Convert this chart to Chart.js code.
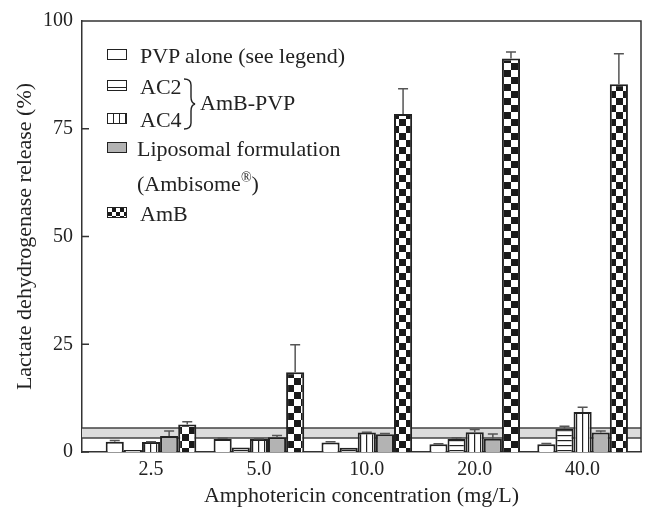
<!DOCTYPE html>
<html>
<head>
<meta charset="utf-8">
<script src="https://cdn.jsdelivr.net/npm/chart.js@4"></script>
<style>
  body { margin: 0; background: #fff; }
  #wrap { position: relative; width: 646px; height: 511px; }
  #legend { position: absolute; left: 0; top: 0; font-family: "Liberation Serif", "Times New Roman", serif; font-size: 22px; color: #222; }
  .sw { position: absolute; left: 107px; width: 18px; height: 9px; border: 1.5px solid #222; background: #fff; }
  .lbl { position: absolute; white-space: nowrap; line-height: 1; transform: translateY(-50%); }
  .lbl sup { font-size: 14px; }
</style>
</head>
<body>
<div id="wrap">
  <canvas id="ldhChart" width="646" height="511"></canvas>
  <div id="legend">
    <div class="sw" style="top:49px"></div>
    <div class="lbl" style="left:140px;top:56px">PVP alone (see legend)</div>
    <div class="sw" style="top:80px;background:repeating-linear-gradient(to bottom,#fff 0 2.5px,#222 2.5px 3.5px)"></div>
    <div class="lbl" style="left:140px;top:87px">AC2</div>
    <div class="sw" style="top:113px;background:repeating-linear-gradient(to right,#fff 0 5px,#222 5px 6px)"></div>
    <div class="lbl" style="left:140px;top:120px">AC4</div>
    <svg style="position:absolute;left:182px;top:77px" width="16" height="54">
      <path d="M2 2 Q9 2 9 8 L9 20 Q9 26 13 27 Q9 28 9 34 L9 46 Q9 52 2 52" fill="none" stroke="#222" stroke-width="1.4"/>
    </svg>
    <div class="lbl" style="left:200px;top:103px">AmB-PVP</div>
    <div class="sw" style="top:142px;background:#b3b3b3"></div>
    <div class="lbl" style="left:137px;top:149px">Liposomal formulation</div>
    <div class="lbl" style="left:137px;top:183px">(Ambisome<sup>®</sup>)</div>
    <div class="sw" style="top:207px;background:conic-gradient(#1a1a1a 25%,#fff 0 50%,#1a1a1a 0 75%,#fff 0) 0 0/8px 8px"></div>
    <div class="lbl" style="left:140px;top:214px">AmB</div>
  </div>
</div>
<script>
// Data
const categories = ['2.5', '5.0', '10.0', '20.0', '40.0'];
const pvpAlone = [2.4, 3.0, 2.2, 1.8, 1.8];
const pvpAloneErr = [0.25, 0.2, 0.2, 0.1, 0.2];
const ac2 = [0.45, 1.05, 1.0, 3.0, 5.4];
const ac2Err = [0, 0, 0, 0.3, 0.6];
const ac4 = [2.3, 3.0, 4.5, 4.6, 9.3];
const ac4Err = [0.1, 0.1, 0.1, 0.6, 1.1];
const liposomal = [3.7, 3.4, 4.1, 3.1, 4.5];
const liposomalErr = [1.2, 0.4, 0.2, 1.1, 0.4];
const amb = [6.4, 18.5, 78.4, 91.3, 85.3];
const ambErr = [0.6, 6.4, 5.9, 1.5, 7.1];
const bandRange = [3.25, 5.55];
const yTicks = [0, 25, 50, 75, 100];

const canvas = document.getElementById('ldhChart');
const ctx = canvas.getContext('2d');

// Fill patterns
function makePattern(w, h, draw) {
    const c = document.createElement('canvas');
    c.width = w;
    c.height = h;
    const g = c.getContext('2d');
    g.fillStyle = '#fff';
    g.fillRect(0, 0, w, h);
    draw(g);
    return ctx.createPattern(c, 'repeat');
}

const hLines = makePattern(5, 5, g => { g.fillStyle = '#222'; g.fillRect(0, 0, 5, 1.2); });
const vLines = makePattern(6, 6, g => { g.fillStyle = '#222'; g.fillRect(0, 0, 1.2, 6); });
const checker = makePattern(14, 14, g => {
    g.fillStyle = '#1a1a1a';
    g.fillRect(0, 0, 7, 7);
    g.fillRect(7, 7, 7, 7);
});

function toPoints(values) {
    return values.map((v, i) => ({ x: i + 1, y: v }));
}

const seriesList = [
    { label: 'PVP alone', values: pvpAlone, err: pvpAloneErr, fill: '#fff' },
    { label: 'AC2', values: ac2, err: ac2Err, fill: hLines },
    { label: 'AC4', values: ac4, err: ac4Err, fill: vLines },
    { label: 'Liposomal formulation', values: liposomal, err: liposomalErr, fill: '#b3b3b3' },
    { label: 'AmB', values: amb, err: ambErr, fill: checker }
];

// Gray reference band behind the bars
const bandPlugin = {
    id: 'band',
    beforeDatasetsDraw(chart) {
        const { ctx, chartArea, scales } = chart;
        const yTop = scales.y.getPixelForValue(bandRange[1]);
        const yBot = scales.y.getPixelForValue(bandRange[0]);
        ctx.save();
        ctx.fillStyle = '#dcdcdc';
        ctx.fillRect(chartArea.left, yTop, chartArea.right - chartArea.left, yBot - yTop);
        ctx.strokeStyle = '#444';
        ctx.lineWidth = 1.5;
        ctx.beginPath();
        ctx.moveTo(chartArea.left, yTop);
        ctx.lineTo(chartArea.right, yTop);
        ctx.moveTo(chartArea.left, yBot);
        ctx.lineTo(chartArea.right, yBot);
        ctx.stroke();
        ctx.restore();
    }
};

// Error bars (upper only), frame and inward ticks
const errorBarPlugin = {
    id: 'errorBars',
    afterDatasetsDraw(chart) {
        const { ctx, scales, chartArea } = chart;
        ctx.save();
        ctx.strokeStyle = '#555';
        ctx.lineWidth = 1.5;
        chart.data.datasets.forEach((ds, di) => {
            const meta = chart.getDatasetMeta(di);
            meta.data.forEach((bar, i) => {
                const e = ds.errors[i];
                if (!e) return;
                const yEnd = scales.y.getPixelForValue(ds.data[i].y + e);
                ctx.beginPath();
                ctx.moveTo(bar.x, bar.y);
                ctx.lineTo(bar.x, yEnd);
                ctx.moveTo(bar.x - 5, yEnd);
                ctx.lineTo(bar.x + 5, yEnd);
                ctx.stroke();
            });
        });

        ctx.strokeStyle = '#333';
        ctx.beginPath();
        ctx.moveTo(chartArea.left, chartArea.top);
        ctx.lineTo(chartArea.right, chartArea.top);
        ctx.lineTo(chartArea.right, chartArea.bottom);
        scales.y.ticks.forEach(t => {
            const y = scales.y.getPixelForValue(t.value);
            ctx.moveTo(chartArea.left, y);
            ctx.lineTo(chartArea.left + 7, y);
        });
        ctx.stroke();
        ctx.restore();
    }
};

const fontFamily = '"Liberation Serif", "Times New Roman", serif';

new Chart(ctx, {
    type: 'bar',
    data: {
        datasets: seriesList.map(s => ({
            label: s.label,
            data: toPoints(s.values),
            errors: s.err,
            backgroundColor: s.fill,
            borderColor: '#222',
            borderWidth: 2,
            borderSkipped: 'bottom',
            categoryPercentage: 0.84,
            barPercentage: 1
        }))
    },
    options: {
        responsive: false,
        animation: false,
        layout: { padding: { top: 19, right: 5, left: 0, bottom: 0 } },
        plugins: {
            legend: { display: false },
            tooltip: { enabled: false }
        },
        scales: {
            x: {
                type: 'linear',
                offset: false,
                min: 0.3605,
                max: 5.541,
                afterBuildTicks: scale => { scale.ticks = categories.map((c, i) => ({ value: i + 1 })); },
                afterFit: scale => { scale.height = 59; },
                grid: { display: false, drawTicks: false, offset: false },
                border: { display: true, color: '#333', width: 1.5 },
                ticks: {
                    padding: 6,
                    color: '#222',
                    font: { family: fontFamily, size: 20 },
                    callback: v => categories[v - 1]
                },
                title: {
                    display: true,
                    text: 'Amphotericin concentration (mg/L)',
                    color: '#222',
                    font: { family: fontFamily, size: 22, lineHeight: 1.2 },
                    padding: { top: 0, bottom: 1.8 }
                }
            },
            y: {
                min: 0,
                max: 100,
                afterBuildTicks: scale => { scale.ticks = yTicks.map(v => ({ value: v })); },
                afterFit: scale => { scale.width = 82; },
                grid: { display: false, drawTicks: false },
                border: { display: true, color: '#333', width: 1.5 },
                ticks: {
                    padding: 9,
                    color: '#222',
                    font: { family: fontFamily, size: 20 }
                },
                title: {
                    display: true,
                    text: 'Lactate dehydrogenase release (%)',
                    color: '#222',
                    font: { family: fontFamily, size: 22, lineHeight: 1.2 },
                    padding: { top: 11.8, bottom: 0 }
                }
            }
        }
    },
    plugins: [bandPlugin, errorBarPlugin]
});
</script>
</body>
</html>
